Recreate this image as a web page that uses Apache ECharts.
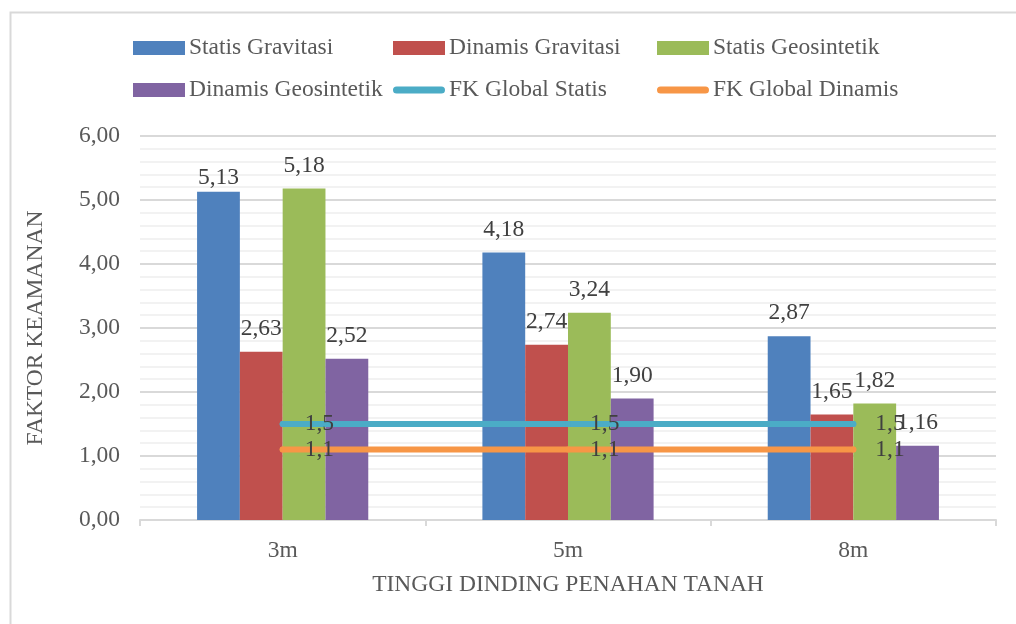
<!DOCTYPE html>
<html>
<head>
<meta charset="utf-8">
<script src="https://cdn.jsdelivr.net/npm/echarts@6/dist/echarts.min.js"></script>
<style>
html,body{margin:0;padding:0;background:#fff;}
#chart{width:1016px;height:624px;}
</style>
</head>
<body>
<div id="chart"></div>
<script>
const categories = ['3m', '5m', '8m'];
const statisGravitasi = [5.13, 4.18, 2.87];
const dinamisGravitasi = [2.63, 2.74, 1.65];
const statisGeosintetik = [5.18, 3.24, 1.82];
const dinamisGeosintetik = [2.52, 1.90, 1.16];
const fkGlobalStatis = [1.5, 1.5, 1.5];
const fkGlobalDinamis = [1.1, 1.1, 1.1];
const yTicks = [0, 1, 2, 3, 4, 5, 6];

const FONT = '"Liberation Serif", "Times New Roman", serif';
const FS = 23.5;
const comma2 = v => v.toFixed(2).replace('.', ',');
const comma1 = v => String(v).replace('.', ',');

const chart = echarts.init(document.getElementById('chart'), null, {renderer: 'canvas'});

function barSeries(name, data, color, tweak) {
  return {
    name: name,
    type: 'bar',
    data: data.map((v, i) => (tweak && tweak[i] !== undefined) ? {value: v, label: {distance: tweak[i]}} : v),
    barGap: '0%',
    barCategoryGap: '40%',
    itemStyle: {color: color},
    label: {
      show: true,
      position: 'top',
      distance: 11,
      color: '#404040',
      fontFamily: FONT,
      fontSize: FS,
      formatter: p => comma2(p.value)
    }
  };
}
function lineSeries(name, data, color) {
  return {
    name: name,
    type: 'line',
    data: data,
    symbol: 'circle',
    symbolSize: 6,
    itemStyle: {color: color},
    lineStyle: {color: color, width: 6, cap: 'round'},
    z: 5,
    label: {
      show: true,
      position: 'right',
      distance: 19,
      color: '#404040',
      fontFamily: FONT,
      fontSize: FS,
      formatter: p => comma1(p.value)
    }
  };
}

const lineIcon = 'path://M4,0 L54,0 A4,4 0 0 1 54,8 L4,8 A4,4 0 0 1 4,0 Z';
function legendCol(left, names) {
  return {
    orient: 'vertical',
    left: left,
    top: 36,
    padding: 0,
    itemGap: 18,
    itemWidth: 52,
    itemHeight: 14,
    textStyle: {fontFamily: FONT, fontSize: FS, color: '#595959', padding: [0, 0, 0, -1]},
    data: names.map(n => (n.indexOf('FK') === 0 ? {name: n, icon: lineIcon} : {name: n, icon: 'rect'})),
    selectedMode: false
  };
}

const option = {
  animation: false,
  backgroundColor: '#fff',
  graphic: [{
    type: 'rect',
    left: 8, top: 10,
    shape: {width: 1040, height: 700},
    style: {fill: 'none', stroke: '#D9D9D9', lineWidth: 2},
    silent: true
  }],
  legend: [
    legendCol(133, ['Statis Gravitasi', 'Dinamis Geosintetik']),
    legendCol(393, ['Dinamis Gravitasi', 'FK Global Statis']),
    legendCol(657, ['Statis Geosintetik', 'FK Global Dinamis'])
  ],
  grid: {left: 140, right: 20, top: 136, bottom: 104, containLabel: false},
  xAxis: {
    type: 'category',
    data: categories,
    boundaryGap: true,
    axisLine: {lineStyle: {color: '#D9D9D9', width: 2}},
    axisTick: {show: true, length: 6, lineStyle: {color: '#D9D9D9', width: 2}},
    axisLabel: {fontFamily: FONT, fontSize: FS, color: '#595959', margin: 19},
    name: 'TINGGI DINDING PENAHAN TANAH',
    nameLocation: 'middle',
    nameGap: 53,
    nameTextStyle: {fontFamily: FONT, fontSize: FS, color: '#595959'}
  },
  yAxis: {
    type: 'value',
    min: yTicks[0],
    max: yTicks[yTicks.length - 1],
    interval: 1,
    axisLine: {show: false},
    axisTick: {show: false},
    axisLabel: {fontFamily: FONT, fontSize: FS, color: '#595959', margin: 20, formatter: v => comma2(v)},
    splitLine: {lineStyle: {color: '#D9D9D9', width: 2}},
    minorTick: {show: false, splitNumber: 5},
    minorSplitLine: {show: true, lineStyle: {color: '#F2F2F2', width: 2}},
    name: 'FAKTOR KEAMANAN',
    nameLocation: 'middle',
    nameRotate: 90,
    nameGap: 92,
    nameTextStyle: {fontFamily: FONT, fontSize: FS, color: '#595959'}
  },
  series: [
    barSeries('Statis Gravitasi', statisGravitasi, '#4F81BD', {0: 2}),
    barSeries('Dinamis Gravitasi', dinamisGravitasi, '#C0504D'),
    barSeries('Statis Geosintetik', statisGeosintetik, '#9BBB59'),
    barSeries('Dinamis Geosintetik', dinamisGeosintetik, '#8064A2'),
    lineSeries('FK Global Statis', fkGlobalStatis, '#4BACC6'),
    lineSeries('FK Global Dinamis', fkGlobalDinamis, '#F79646')
  ]
};
chart.setOption(option);
</script>
</body>
</html>
